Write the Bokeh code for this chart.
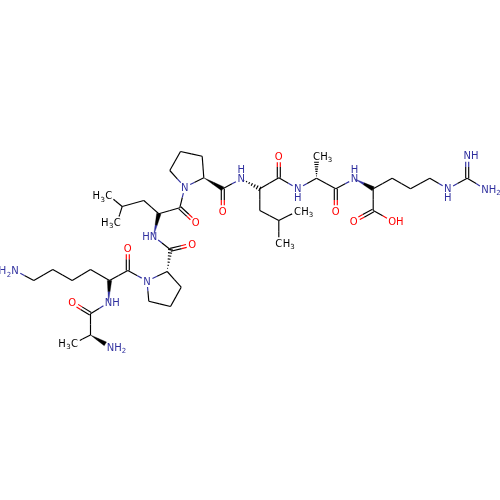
from bokeh.plotting import figure
from bokeh.embed import file_html
from bokeh.resources import INLINE
from bokeh.models import Range1d
from bokeh.core.properties import value
import math

# Atoms: name -> (element, x, y)
atom_names = ["Me1","Ca1","N1","C1","O1","N2","Ca2","C2","O2","N3","Cb2","Cg2","Cd2","Ce2","Nz2",
 "Ca3","Cb3","Cg3","Cd3","C3","O3","N4","Ca4","C4","O4","N5","Cb4","Cg4","Md4a","Md4b",
 "Cd5","Cg5","Cb5","Ca5","C5","O5","N6","Ca6","C6","O6","N7","Cb6","Cg6","Md6a","Md6b",
 "Ca7","Me7","C7","O7","N8","Ca8","C8","O8a","O8b","Cb8","Cg8","Cd8","Ne8","Cz8","Nh8","Nt8"]
atom_elems = ["C","C","N","C","O","N","C","C","O","N","C","C","C","C","N",
 "C","C","C","C","C","O","N","C","C","O","N","C","C","C","C",
 "C","C","C","C","C","O","N","C","C","O","N","C","C","C","C",
 "C","C","C","O","N","C","C","O","O","C","C","C","N","C","N","N"]
atom_x = [74,90,110,90,71.7,108,109,127.3,127.3,146.5,90,71.7,52.3,33.3,14.5,
 166.7,180.7,170,148.3,170,191.7,153,158.3,179.3,195.3,184.3,143.3,121.7,108.3,116.7,
 169.3,180,201.7,203.3,222.3,222.3,240.7,259.3,278.3,278.3,297.3,259.3,278.3,297,278.3,
 316,316,335.3,335.3,354,372.7,372.7,353.3,391.7,391.7,410,429.3,447.3,466.7,466.7,484.5]
atom_y = [342.7,334.5,346.5,313.3,302,302,280,270,247.7,280.5,
 269,280,269,280,270,
 271,286.7,306,300.7,249.3,244,235.7,213.3,207.3,222.3,186.7,200,206,195,221.7,
 170,151,155.7,177.3,188.3,210.7,178.3,188.3,177.3,155.7,188.3,210,220,210.7,242.7,
 177.7,155.7,188.3,210.7,178.3,188.3,210,220.7,220.7,177.7,188.3,177.7,188.3,177.7,155.3,188.5]

# Bonds: first atom, second atom, style (1 single, 2 double, w solid wedge, h hashed wedge)
bond_a = ["Ca1","Ca1","Ca1","C1","C1","N2","Ca2","C2","C2","Ca2","Cb2","Cg2","Cd2","Ce2",
 "N3","Ca3","Cb3","Cg3","Cd3","Ca3","C3","C3","N4","Ca4","C4","C4","Ca4","Cb4","Cg4","Cg4",
 "N5","Cd5","Cg5","Cb5","Ca5","Ca5","C5","C5","N6","Ca6","C6","C6","N7","Ca6","Cb6","Cg6","Cg6",
 "Ca7","Ca7","C7","C7","N8","Ca8","C8","C8","Ca8","Cb8","Cg8","Cd8","Ne8","Cz8","Cz8"]
bond_b = ["Me1","N1","C1","O1","N2","Ca2","C2","O2","N3","Cb2","Cg2","Cd2","Ce2","Nz2",
 "Ca3","Cb3","Cg3","Cd3","N3","C3","O3","N4","Ca4","C4","O4","N5","Cb4","Cg4","Md4a","Md4b",
 "Cd5","Cg5","Cb5","Ca5","N5","C5","O5","N6","Ca6","C6","O6","N7","Ca7","Cb6","Cg6","Md6a","Md6b",
 "Me7","C7","O7","N8","Ca8","C8","O8a","O8b","Cb8","Cg8","Cd8","Ne8","Cz8","Nh8","Nt8"]
bond_s = ["1","w","1","2","1","w","1","2","1","1","1","1","1","1",
 "1","1","1","1","1","h","2","1","w","1","2","1","1","1","1","1",
 "1","1","1","1","1","w","2","1","h","1","2","1","1","1","1","1","1",
 "h","1","2","1","w","1","2","1","1","1","1","1","1","2","1"]

# Labels: atom and the form of its label
label_atoms = ["Me1","N1","O1","N2","O2","N3","Nz2","Md4a","Md4b","O3","N4","O4","N5","O5","N6","O6","N7",
 "Md6a","Md6b","Me7","O7","N8","O8a","O8b","Ne8","Nh8","Nt8"]
label_kinds = ["H3C","NH2","O","NHr","O","N","H2N","H3C","H3C","O","HN","O","N","O","NHu","O","NHd",
 "CH3","CH3","CH3","O","NHu","O","OH","NHd","NHr","NH2"]

CARBON, NITRO, OXY = "#000000", "#30309F", "#FF0000"
COL = {"C": CARBON, "N": NITRO, "O": OXY}
FONT = "DejaVu Sans"

pos = {n: (x, y, e) for n, x, y, e in zip(atom_names, atom_x, atom_y, atom_elems)}
labelled = set(label_atoms)

p = figure(width=500, height=500, output_backend="svg", toolbar_location=None,
           x_range=Range1d(0, 500), y_range=Range1d(500, 0), min_border=0,
           outline_line_color=None, background_fill_color="white", border_fill_color="white")
p.axis.visible = False
p.grid.visible = False
p.styles = {"position": "fixed", "left": "0px", "top": "0px"}

sx0, sy0, sx1, sy1, sc = [], [], [], [], []
wx, wy, wc = [], [], []

def add_half(x0, y0, x1, y1, e0, e1, t0, t1):
    """Draw a line coloured by the atom at each end, trimmed around labels."""
    L = math.hypot(x1 - x0, y1 - y0)
    ux, uy = (x1 - x0) / L, (y1 - y0) / L
    ax, ay = x0 + ux * t0, y0 + uy * t0
    bx, by = x1 - ux * t1, y1 - uy * t1
    mx, my = (x0 + x1) / 2, (y0 + y1) / 2
    sx0.extend([ax, mx]); sy0.extend([ay, my]); sx1.extend([mx, bx]); sy1.extend([my, by])
    sc.extend([COL[e0], COL[e1]])

TRIM = 6.0
for a, b, s in zip(bond_a, bond_b, bond_s):
    x0, y0, e0 = pos[a]; x1, y1, e1 = pos[b]
    t0 = TRIM if a in labelled else 0
    t1 = TRIM if b in labelled else 0
    L = math.hypot(x1 - x0, y1 - y0)
    ux, uy = (x1 - x0) / L, (y1 - y0) / L
    nx, ny = -uy, ux
    if s == "1":
        add_half(x0, y0, x1, y1, e0, e1, t0, t1)
    elif s == "2":
        d = 1.5
        for k in (-d, d):
            add_half(x0 + nx * k, y0 + ny * k, x1 + nx * k, y1 + ny * k, e0, e1, t0, t1)
    elif s == "w":
        ex, ey = x1 - ux * t1, y1 - uy * t1
        mx, my = (x0 + ex) / 2, (y0 + ey) / 2
        hw, hm = 2.2, 1.1
        wx.append([x0, mx + nx * hm, mx - nx * hm]); wy.append([y0, my + ny * hm, my - ny * hm]); wc.append(COL[e0])
        wx.append([mx + nx * hm, ex + nx * hw, ex - nx * hw, mx - nx * hm])
        wy.append([my + ny * hm, ey + ny * hw, ey - ny * hw, my - ny * hm]); wc.append(CARBON)
    elif s == "h":
        ex, ey = x1 - ux * t1, y1 - uy * t1
        n = 7
        for i in range(1, n + 1):
            f = i / n
            cx, cy = x0 + (ex - x0) * f, y0 + (ey - y0) * f
            w = 2.4 * f
            sx0.append(cx + nx * w); sy0.append(cy + ny * w)
            sx1.append(cx - nx * w); sy1.append(cy - ny * w)
            sc.append(CARBON if e1 == "C" or f < 0.5 else COL[e1])

p.segment(x0=sx0, y0=sy0, x1=sx1, y1=sy1, line_color=sc, line_width=1.15)
p.patches(xs=wx, ys=wy, fill_color=wc, line_color=wc, line_width=0.3)

tx, ty, tt, tc, ts = [], [], [], [], []
def put(x, y, t, c, size=10.0):
    tx.append(x); ty.append(y); tt.append(t); tc.append(c); ts.append(f"{size}px")

A = 7.6   # advance of a capital
for n, kind in zip(label_atoms, label_kinds):
    x, y, e = pos[n]
    c = COL[e]
    if kind == "O":
        put(x, y, "O", c)
    elif kind == "N":
        put(x, y, "N", c)
    elif kind == "NHr":
        put(x, y, "N", c); put(x + A, y, "H", c)
    elif kind == "HN":
        put(x, y, "N", c); put(x - A, y, "H", c)
    elif kind == "NHu":
        put(x, y, "N", c); put(x, y - 9, "H", c)
    elif kind == "NHd":
        put(x, y, "N", c); put(x, y + 9, "H", c)
    elif kind == "NH2":
        put(x, y, "N", c); put(x + A, y, "H", c); put(x + A + 6, y + 3, "2", c, 7)
    elif kind == "H2N":
        put(x, y, "N", c); put(x - 6, y + 3, "2", c, 7); put(x - 6 - 6.5, y, "H", c)
    elif kind == "OH":
        put(x, y, "O", c); put(x + A, y, "H", c)
    elif kind == "H3C":
        put(x, y, "C", c); put(x - 6, y + 3, "3", c, 7); put(x - 6 - 6.5, y, "H", c)
    elif kind == "CH3":
        put(x, y, "C", c); put(x + A, y, "H", c); put(x + A + 6, y + 3, "3", c, 7)

p.text(x=tx, y=ty, text=tt, text_color=tc, text_font=value(FONT), text_font_size=ts,
       text_align="center", text_baseline="middle")

open("out.html", "w").write(file_html(p, INLINE))
